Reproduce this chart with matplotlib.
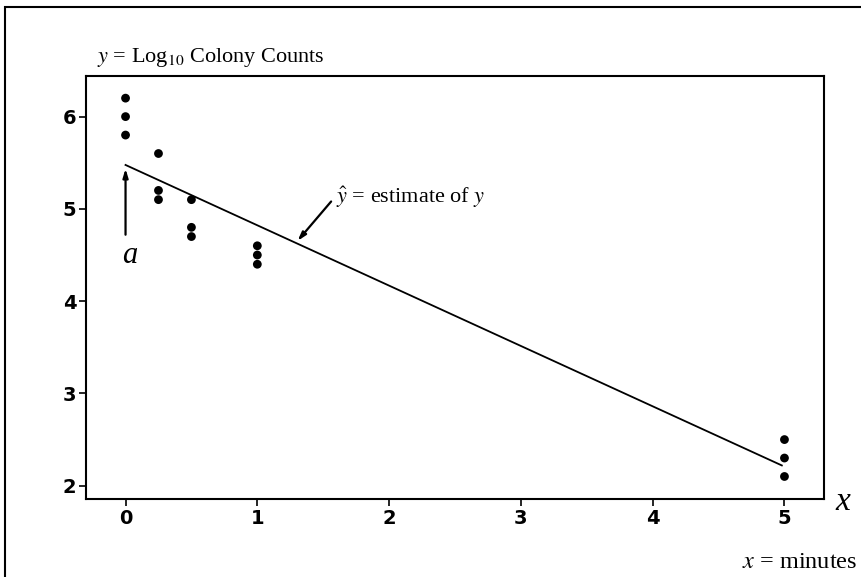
import numpy as np
import matplotlib
matplotlib.use("Agg")
import matplotlib.pyplot as plt
from matplotlib.patches import Rectangle

plt.rcParams["mathtext.fontset"] = "stix"

# Exposure time (minutes) and log10 colony counts, three plates per time
minutes = [0, 0, 0, 0.25, 0.25, 0.25, 0.5, 0.5, 0.5, 1, 1, 1, 5, 5, 5]
log_counts = [6.2, 6.0, 5.8, 5.6, 5.2, 5.1, 5.1, 4.8, 4.7, 4.6, 4.5, 4.4, 2.5, 2.3, 2.1]
x_ticks = [0, 1, 2, 3, 4, 5]
y_ticks = [2, 3, 4, 5, 6]

W, H = 861, 577
fig = plt.figure(figsize=(W / 100, H / 100), dpi=100)
ax = fig.add_axes([86 / W, 1 - 499 / H, (824 - 86) / W, (499 - 76) / H])

x = np.array(minutes, dtype=float)
y = np.array(log_counts, dtype=float)

# least-squares fit line
slope, intercept = np.polyfit(x, y, 1)
xf = np.array([0.0, 4.98])
ax.plot(xf, intercept + slope * xf, color="black", lw=1.3)

ax.scatter(x, y, s=40, color="black", zorder=3, edgecolors="none")

ax.set_xlim(-0.3, 5.3)
ax.set_ylim(1.856, 6.44)
ax.set_xticks(x_ticks)
ax.set_yticks(y_ticks)
ax.set_xticklabels([str(t) for t in x_ticks])
ax.set_yticklabels([str(t) for t in y_ticks])
ax.tick_params(direction="out", length=5, width=1.2, pad=2, labelsize=14)
for lab in ax.get_xticklabels() + ax.get_yticklabels():
    lab.set_fontweight("bold")
    lab.set_family("DejaVu Sans")
for sp in ax.spines.values():
    sp.set_linewidth(1.5)

serif = "Liberation Serif"

# intercept marker
ax.annotate("", xy=(0, intercept - 0.04), xytext=(0, 4.72),
            arrowprops=dict(arrowstyle="-|>,head_length=0.5,head_width=0.15",
                            color="black", lw=1.6, shrinkA=0, shrinkB=0))
ax.text(0.03, 4.5, "a", fontsize=22, family=serif, style="italic",
        ha="center", va="center")

# fitted-value label
xa = 1.305
ax.annotate("", xy=(xa, intercept + slope * xa + 0.03), xytext=(1.56, 5.08),
            arrowprops=dict(arrowstyle="-|>,head_length=0.5,head_width=0.15",
                            color="black", lw=1.6, shrinkA=0, shrinkB=0))
ax.text(1.595, 5.13, r"$\hat{y}$" + " = estimate of " + r"$y$", fontsize=16,
        family=serif, ha="left", va="center")

fig.text(97 / W, 1 - 62 / H, r"$y$ = Log$_{10}$ Colony Counts", fontsize=16,
         family=serif, ha="left", va="baseline")
fig.text(843 / W, 1 - 502 / H, "x", fontsize=24, family=serif, style="italic",
         ha="center", va="center")
fig.text(857 / W, 1 - 568 / H, r"$x$ = minutes", fontsize=17.5, family=serif,
         ha="right", va="baseline")

# frame around the figure (top and left edges visible)
fig.patches.append(Rectangle((5 / W, -0.05), 1.2, 1 - 6.5 / H + 0.05,
                             transform=fig.transFigure, fill=False,
                             edgecolor="black", lw=1.5))

fig.savefig("out.png", dpi=100)
